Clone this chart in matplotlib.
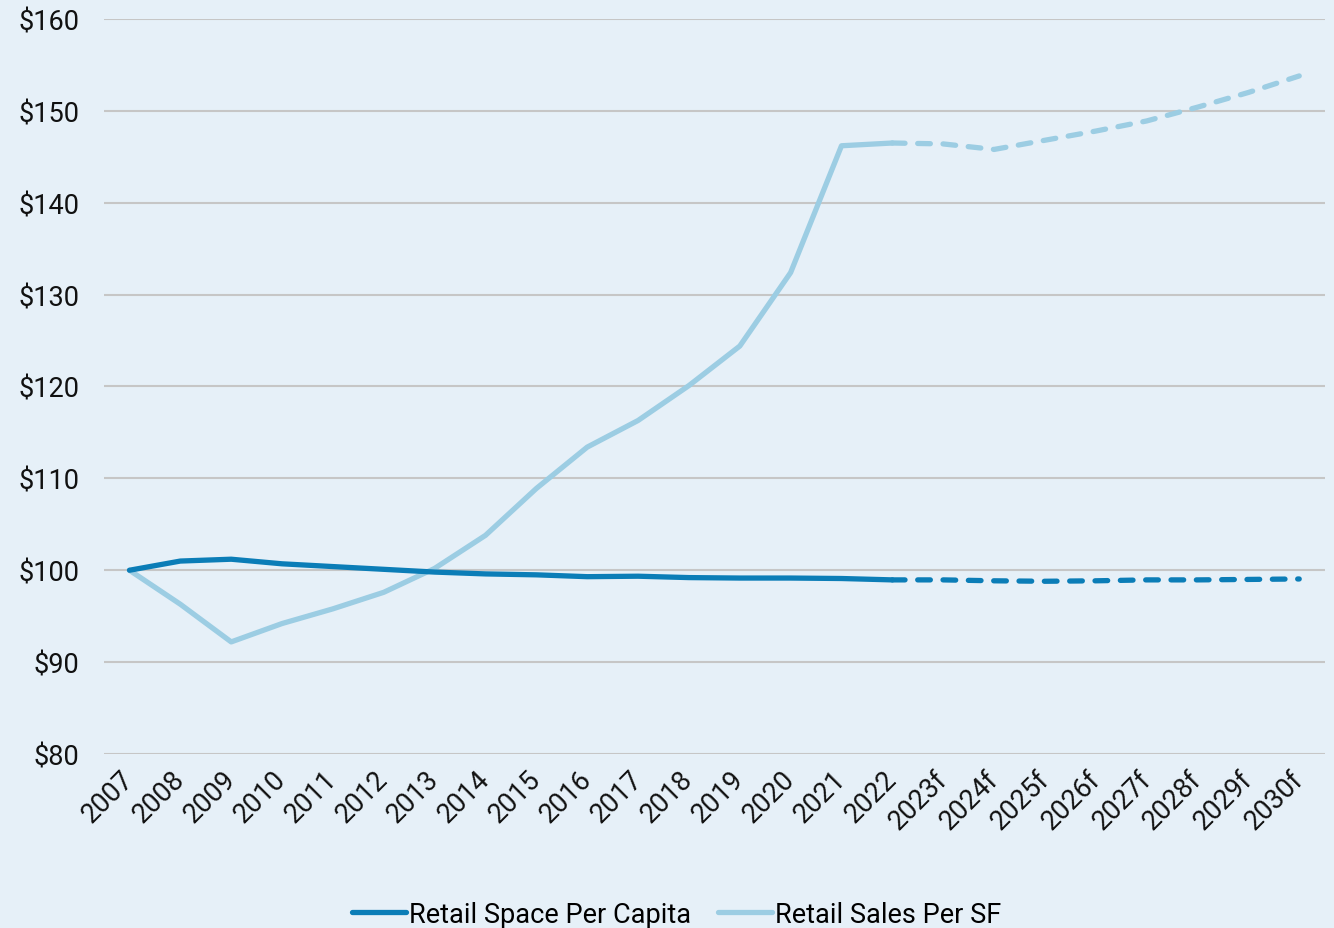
import matplotlib
matplotlib.use("Agg")
import matplotlib.pyplot as plt
from matplotlib.lines import Line2D
import numpy as np

years = ["2007", "2008", "2009", "2010", "2011", "2012", "2013", "2014", "2015",
         "2016", "2017", "2018", "2019", "2020", "2021", "2022", "2023f", "2024f",
         "2025f", "2026f", "2027f", "2028f", "2029f", "2030f"]

space_per_capita = [100.0, 101.0, 101.2, 100.7, 100.4, 100.1, 99.8, 99.6, 99.5,
                    99.3, 99.35, 99.2, 99.15, 99.15, 99.1, 98.95, 98.95, 98.85,
                    98.8, 98.85, 98.95, 98.95, 99.0, 99.05]

sales_per_sf = [100.0, 96.3, 92.2, 94.2, 95.8, 97.6, 100.2, 103.8, 108.9,
                113.4, 116.3, 120.1, 124.4, 132.4, 146.2, 146.5, 146.4, 145.8,
                146.8, 147.8, 148.9, 150.4, 152.0, 153.8]

last_actual = "2022"
y_ticks = [80, 90, 100, 110, 120, 130, 140, 150, 160]

BG = "#e6f0f8"
DARK = "#0b7db7"
LIGHT = "#9ccde3"
GRID = "#c6c6c6"
FS = 19.5

plt.rcParams["font.family"] = ["Roboto", "DejaVu Sans"]

fig = plt.figure(figsize=(13.34, 9.29), dpi=100, facecolor=BG)
ax = fig.add_axes([0.078, 0.1873, 0.915, 0.7912])
ax.set_facecolor(BG)

x = np.arange(len(years))
split = years.index(last_actual)
lw = 3.8

for vals, col in [(sales_per_sf, LIGHT), (space_per_capita, DARK)]:
    v = np.array(vals)
    ax.plot(x[:split + 1], v[:split + 1], color=col, lw=lw,
            solid_capstyle="round", solid_joinstyle="round", zorder=3)
    ax.plot(x[split:], v[split:], color=col, lw=lw, linestyle=(0, (2.4, 2.4)),
            dash_capstyle="round", dash_joinstyle="round", zorder=3)

ax.set_xlim(-0.5, len(years) - 0.5)
ax.set_ylim(80, 160)
ax.set_yticks(y_ticks)
ax.set_yticklabels([f"${t}" for t in y_ticks])
ax.yaxis.grid(True, color=GRID, lw=1.5)
ax.set_axisbelow(True)
for s in ax.spines.values():
    s.set_visible(False)

ax.set_xticks(x)
ax.set_xticklabels(years, rotation=45, ha="right", va="center",
                   rotation_mode="anchor")
ax.tick_params(axis="both", length=0, labelsize=FS, colors="#111111")
ax.tick_params(axis="y", pad=18)
ax.tick_params(axis="x", pad=15)

handles = [Line2D([], [], color=DARK, lw=lw, solid_capstyle="round"),
           Line2D([], [], color=LIGHT, lw=lw, solid_capstyle="round")]
fig.legend(handles, ["Retail Space Per Capita", "Retail Sales Per SF"],
           loc="center", bbox_to_anchor=(0.507, 0.015), ncol=2, frameon=False,
           fontsize=FS, handlelength=2.0, handletextpad=0.1,
           columnspacing=1.0, borderpad=0, borderaxespad=0)

fig.savefig("out.png", dpi=100, facecolor=BG)
